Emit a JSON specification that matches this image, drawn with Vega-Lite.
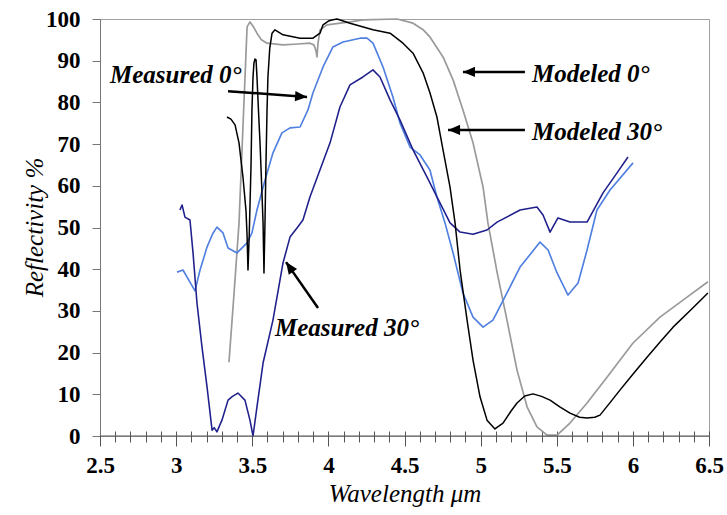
{
  "$schema": "https://vega.github.io/schema/vega-lite/v6.json",
  "autosize": {"type": "none"},
  "width": 609,
  "height": 417,
  "padding": {"left": 100, "top": 19, "right": 18, "bottom": 79},
  "background": "white",
  "config": {
    "view": {"stroke": "#a0a0a0", "strokeWidth": 1},
    "font": "Liberation Serif, serif",
    "axis": {"grid": false, "labelFont": "Liberation Serif, serif", "labelFontWeight": "bold", "labelFontSize": 22, "labelColor": "#000000",
      "titleFont": "Liberation Serif, serif", "titleFontStyle": "italic", "titleFontWeight": "normal", "titleColor": "#000000",
      "labelFlush": false, "labelOverlap": false}
  },
  "datasets": {
    "curves": [
      {"s":"Modeled 0°","x":3.347,"y":17.7},{"s":"Modeled 0°","x":3.380,"y":34},{"s":"Modeled 0°","x":3.413,"y":51},{"s":"Modeled 0°","x":3.440,"y":75},{"s":"Modeled 0°","x":3.466,"y":98.1},{"s":"Modeled 0°","x":3.485,"y":99.3},{"s":"Modeled 0°","x":3.510,"y":98},{"s":"Modeled 0°","x":3.531,"y":96.6},{"s":"Modeled 0°","x":3.560,"y":95},{"s":"Modeled 0°","x":3.597,"y":94.2},{"s":"Modeled 0°","x":3.702,"y":93.8},{"s":"Modeled 0°","x":3.800,"y":94},{"s":"Modeled 0°","x":3.879,"y":94.2},{"s":"Modeled 0°","x":3.905,"y":93.8},{"s":"Modeled 0°","x":3.918,"y":92.5},{"s":"Modeled 0°","x":3.925,"y":90.9},{"s":"Modeled 0°","x":3.932,"y":94.2},{"s":"Modeled 0°","x":3.945,"y":97.4},{"s":"Modeled 0°","x":3.991,"y":98.6},{"s":"Modeled 0°","x":4.142,"y":99.3},{"s":"Modeled 0°","x":4.227,"y":99.8},{"s":"Modeled 0°","x":4.451,"y":100},{"s":"Modeled 0°","x":4.556,"y":99.0},{"s":"Modeled 0°","x":4.620,"y":97.5},{"s":"Modeled 0°","x":4.667,"y":95.7},{"s":"Modeled 0°","x":4.753,"y":90.9},{"s":"Modeled 0°","x":4.819,"y":85.4},{"s":"Modeled 0°","x":4.884,"y":78.2},{"s":"Modeled 0°","x":4.950,"y":70.3},{"s":"Modeled 0°","x":5.016,"y":59.7},{"s":"Modeled 0°","x":5.048,"y":51.1},{"s":"Modeled 0°","x":5.108,"y":39.3},{"s":"Modeled 0°","x":5.173,"y":27.8},{"s":"Modeled 0°","x":5.239,"y":15.8},{"s":"Modeled 0°","x":5.305,"y":7.0},{"s":"Modeled 0°","x":5.370,"y":2.2},{"s":"Modeled 0°","x":5.436,"y":0.2},{"s":"Modeled 0°","x":5.502,"y":0.2},{"s":"Modeled 0°","x":5.587,"y":3.1},{"s":"Modeled 0°","x":5.699,"y":7.9},{"s":"Modeled 0°","x":5.830,"y":14.1},{"s":"Modeled 0°","x":6.001,"y":22.3},{"s":"Modeled 0°","x":6.178,"y":28.5},{"s":"Modeled 0°","x":6.356,"y":33.3},{"s":"Modeled 0°","x":6.493,"y":37.0},

      {"s":"Measured 0°","x":3.006,"y":39.3},{"s":"Measured 0°","x":3.045,"y":39.8},{"s":"Measured 0°","x":3.091,"y":36.9},{"s":"Measured 0°","x":3.124,"y":34.8},{"s":"Measured 0°","x":3.157,"y":39.8},{"s":"Measured 0°","x":3.203,"y":45.3},{"s":"Measured 0°","x":3.240,"y":48.5},{"s":"Measured 0°","x":3.268,"y":50.1},{"s":"Measured 0°","x":3.308,"y":48.7},{"s":"Measured 0°","x":3.341,"y":45.1},{"s":"Measured 0°","x":3.400,"y":43.9},{"s":"Measured 0°","x":3.466,"y":46.3},{"s":"Measured 0°","x":3.498,"y":48.7},{"s":"Measured 0°","x":3.531,"y":54.2},{"s":"Measured 0°","x":3.584,"y":61.4},{"s":"Measured 0°","x":3.636,"y":67.9},{"s":"Measured 0°","x":3.695,"y":72.7},{"s":"Measured 0°","x":3.748,"y":73.9},{"s":"Measured 0°","x":3.814,"y":74.1},{"s":"Measured 0°","x":3.866,"y":78.2},{"s":"Measured 0°","x":3.899,"y":82.3},{"s":"Measured 0°","x":3.965,"y":88.5},{"s":"Measured 0°","x":4.030,"y":93.3},{"s":"Measured 0°","x":4.096,"y":94.5},{"s":"Measured 0°","x":4.208,"y":95.4},{"s":"Measured 0°","x":4.254,"y":95.4},{"s":"Measured 0°","x":4.293,"y":94.2},{"s":"Measured 0°","x":4.359,"y":88.5},{"s":"Measured 0°","x":4.424,"y":81.3},{"s":"Measured 0°","x":4.470,"y":75.1},{"s":"Measured 0°","x":4.536,"y":69.3},{"s":"Measured 0°","x":4.602,"y":67.4},{"s":"Measured 0°","x":4.667,"y":63.8},{"s":"Measured 0°","x":4.713,"y":57.3},{"s":"Measured 0°","x":4.766,"y":51.1},{"s":"Measured 0°","x":4.819,"y":43.9},{"s":"Measured 0°","x":4.884,"y":34.3},{"s":"Measured 0°","x":4.950,"y":28.5},{"s":"Measured 0°","x":5.016,"y":26.1},{"s":"Measured 0°","x":5.081,"y":27.8},{"s":"Measured 0°","x":5.173,"y":34.3},{"s":"Measured 0°","x":5.259,"y":40.5},{"s":"Measured 0°","x":5.390,"y":46.5},{"s":"Measured 0°","x":5.443,"y":44.6},{"s":"Measured 0°","x":5.502,"y":39.1},{"s":"Measured 0°","x":5.574,"y":33.8},{"s":"Measured 0°","x":5.640,"y":36.7},{"s":"Measured 0°","x":5.699,"y":44.6},{"s":"Measured 0°","x":5.764,"y":54.2},{"s":"Measured 0°","x":5.850,"y":59.0},{"s":"Measured 0°","x":6.001,"y":65.5},

      {"s":"Measured 30°","x":3.025,"y":54.2},{"s":"Measured 30°","x":3.039,"y":55.4},{"s":"Measured 30°","x":3.058,"y":52.5},{"s":"Measured 30°","x":3.091,"y":51.8},{"s":"Measured 30°","x":3.111,"y":43.9},{"s":"Measured 30°","x":3.137,"y":31.9},{"s":"Measured 30°","x":3.170,"y":21.3},{"s":"Measured 30°","x":3.203,"y":11.8},{"s":"Measured 30°","x":3.236,"y":1.4},{"s":"Measured 30°","x":3.250,"y":2.0},{"s":"Measured 30°","x":3.268,"y":1.0},{"s":"Measured 30°","x":3.301,"y":3.8},{"s":"Measured 30°","x":3.341,"y":8.6},{"s":"Measured 30°","x":3.370,"y":9.5},{"s":"Measured 30°","x":3.406,"y":10.3},{"s":"Measured 30°","x":3.452,"y":8.6},{"s":"Measured 30°","x":3.485,"y":3.8},{"s":"Measured 30°","x":3.505,"y":0},{"s":"Measured 30°","x":3.531,"y":7.0},{"s":"Measured 30°","x":3.571,"y":17.5},{"s":"Measured 30°","x":3.636,"y":27.8},{"s":"Measured 30°","x":3.702,"y":41.5},{"s":"Measured 30°","x":3.748,"y":47.7},{"s":"Measured 30°","x":3.794,"y":49.9},{"s":"Measured 30°","x":3.833,"y":51.8},{"s":"Measured 30°","x":3.879,"y":57.3},{"s":"Measured 30°","x":4.011,"y":70.3},{"s":"Measured 30°","x":4.076,"y":78.9},{"s":"Measured 30°","x":4.142,"y":84.2},{"s":"Measured 30°","x":4.227,"y":86.1},{"s":"Measured 30°","x":4.293,"y":87.8},{"s":"Measured 30°","x":4.339,"y":86.1},{"s":"Measured 30°","x":4.405,"y":80.6},{"s":"Measured 30°","x":4.470,"y":75.8},{"s":"Measured 30°","x":4.556,"y":68.6},{"s":"Measured 30°","x":4.648,"y":62.1},{"s":"Measured 30°","x":4.733,"y":55.9},{"s":"Measured 30°","x":4.799,"y":51.1},{"s":"Measured 30°","x":4.865,"y":48.9},{"s":"Measured 30°","x":4.950,"y":48.4},{"s":"Measured 30°","x":5.042,"y":49.4},{"s":"Measured 30°","x":5.108,"y":51.3},{"s":"Measured 30°","x":5.259,"y":54.2},{"s":"Measured 30°","x":5.370,"y":54.9},{"s":"Measured 30°","x":5.410,"y":53.0},{"s":"Measured 30°","x":5.456,"y":48.9},{"s":"Measured 30°","x":5.508,"y":52.3},{"s":"Measured 30°","x":5.587,"y":51.3},{"s":"Measured 30°","x":5.699,"y":51.3},{"s":"Measured 30°","x":5.804,"y":58.3},{"s":"Measured 30°","x":5.896,"y":63.1},{"s":"Measured 30°","x":5.968,"y":66.9},

      {"s":"Modeled 30°","x":3.334,"y":76.5},{"s":"Modeled 30°","x":3.360,"y":76},{"s":"Modeled 30°","x":3.387,"y":74.6},{"s":"Modeled 30°","x":3.413,"y":70.3},{"s":"Modeled 30°","x":3.439,"y":62.1},{"s":"Modeled 30°","x":3.459,"y":54},{"s":"Modeled 30°","x":3.466,"y":48},{"s":"Modeled 30°","x":3.472,"y":39.8},{"s":"Modeled 30°","x":3.480,"y":48},{"s":"Modeled 30°","x":3.492,"y":65},{"s":"Modeled 30°","x":3.498,"y":78.2},{"s":"Modeled 30°","x":3.505,"y":86},{"s":"Modeled 30°","x":3.511,"y":89.4},{"s":"Modeled 30°","x":3.518,"y":90.4},{"s":"Modeled 30°","x":3.525,"y":90.2},{"s":"Modeled 30°","x":3.531,"y":86.1},{"s":"Modeled 30°","x":3.541,"y":78},{"s":"Modeled 30°","x":3.551,"y":70.3},{"s":"Modeled 30°","x":3.562,"y":60},{"s":"Modeled 30°","x":3.571,"y":51.1},{"s":"Modeled 30°","x":3.577,"y":39.1},{"s":"Modeled 30°","x":3.584,"y":52},{"s":"Modeled 30°","x":3.590,"y":65},{"s":"Modeled 30°","x":3.597,"y":78},{"s":"Modeled 30°","x":3.603,"y":86.1},{"s":"Modeled 30°","x":3.615,"y":93},{"s":"Modeled 30°","x":3.630,"y":96.6},{"s":"Modeled 30°","x":3.649,"y":97.4},{"s":"Modeled 30°","x":3.702,"y":96.2},{"s":"Modeled 30°","x":3.814,"y":95.4},{"s":"Modeled 30°","x":3.899,"y":95.4},{"s":"Modeled 30°","x":3.945,"y":96.6},{"s":"Modeled 30°","x":3.965,"y":98.6},{"s":"Modeled 30°","x":4.000,"y":99.5},{"s":"Modeled 30°","x":4.030,"y":99.8},{"s":"Modeled 30°","x":4.057,"y":100},{"s":"Modeled 30°","x":4.142,"y":99.0},{"s":"Modeled 30°","x":4.293,"y":97.4},{"s":"Modeled 30°","x":4.405,"y":96.6},{"s":"Modeled 30°","x":4.490,"y":94.2},{"s":"Modeled 30°","x":4.556,"y":91.8},{"s":"Modeled 30°","x":4.622,"y":87.1},{"s":"Modeled 30°","x":4.667,"y":82.3},{"s":"Modeled 30°","x":4.713,"y":76.5},{"s":"Modeled 30°","x":4.753,"y":68.6},{"s":"Modeled 30°","x":4.799,"y":59.7},{"s":"Modeled 30°","x":4.832,"y":51.1},{"s":"Modeled 30°","x":4.865,"y":39.8},{"s":"Modeled 30°","x":4.911,"y":27.8},{"s":"Modeled 30°","x":4.950,"y":18.2},{"s":"Modeled 30°","x":4.996,"y":9.4},{"s":"Modeled 30°","x":5.042,"y":3.8},{"s":"Modeled 30°","x":5.094,"y":1.7},{"s":"Modeled 30°","x":5.147,"y":3.1},{"s":"Modeled 30°","x":5.200,"y":6},{"s":"Modeled 30°","x":5.239,"y":7.9},{"s":"Modeled 30°","x":5.290,"y":9.6},{"s":"Modeled 30°","x":5.344,"y":10.1},{"s":"Modeled 30°","x":5.400,"y":9.5},{"s":"Modeled 30°","x":5.456,"y":8.6},{"s":"Modeled 30°","x":5.520,"y":7},{"s":"Modeled 30°","x":5.587,"y":5.5},{"s":"Modeled 30°","x":5.650,"y":4.5},{"s":"Modeled 30°","x":5.699,"y":4.3},{"s":"Modeled 30°","x":5.750,"y":4.5},{"s":"Modeled 30°","x":5.784,"y":5.0},{"s":"Modeled 30°","x":5.850,"y":8},{"s":"Modeled 30°","x":5.915,"y":11.0},{"s":"Modeled 30°","x":6.000,"y":14.8},{"s":"Modeled 30°","x":6.093,"y":18.9},{"s":"Modeled 30°","x":6.180,"y":22.6},{"s":"Modeled 30°","x":6.264,"y":26.1},{"s":"Modeled 30°","x":6.380,"y":30.2},{"s":"Modeled 30°","x":6.493,"y":34.3}
    ],
    "notes": [
      {"t":"Measured 0°","x":2.566,"y":86.6},
      {"t":"Modeled 0°","x":5.337,"y":86.8},
      {"t":"Modeled 30°","x":5.337,"y":72.9},
      {"t":"Measured 30°","x":3.649,"y":25.9}
    ],
    "arrows": [
      {"a":"m0","x":3.341,"y":82.7,"x2":3.860,"y2":81.3},
      {"a":"mod0","x":5.291,"y":87.3,"x2":4.884,"y2":87.3},
      {"a":"mod30","x":5.291,"y":73.4,"x2":4.786,"y2":73.4},
      {"a":"m30","x":3.932,"y":30.7,"x2":3.722,"y2":41.7}
    ],
    "heads": [
      {"a":"m0","x":3.860,"y":81.3},
      {"a":"mod0","x":4.884,"y":87.3},
      {"a":"mod30","x":4.786,"y":73.4},
      {"a":"m30","x":3.722,"y":41.7}
    ],
    "baseline": [
      {"x":2.5,"y":0,"x2":6.5}
    ]
  },
  "encoding": {
    "x": {"field": "x", "type": "quantitative",
      "scale": {"domain": [2.5, 6.5], "nice": false, "zero": false},
      "axis": {
        "values": [2.5,2.6,2.7,2.8,2.9,3.0,3.1,3.2,3.3,3.4,3.5,3.6,3.7,3.8,3.9,4.0,4.1,4.2,4.3,4.4,4.5,4.6,4.7,4.8,4.9,5.0,5.1,5.2,5.3,5.4,5.5,5.6,5.7,5.8,5.9,6.0,6.1,6.2,6.3,6.4,6.5],
        "labelExpr": "abs(datum.value*2-round(datum.value*2))<0.001 ? format(datum.value,'~g') : ''",
        "tickSize": {"condition": {"test": "abs(datum.value*2-round(datum.value*2))<0.001", "value": 15}, "value": 11},
        "offset": -5,
        "domain": false,
        "tickColor": "#555555",
        "tickWidth": 1,
        "labelFont": "Liberation Serif, serif", "labelFontWeight": "bold", "labelFontSize": 23, "labelColor": "#000000",
        "labelPadding": 8, "labelFlush": false, "labelOverlap": false,
        "title": "Wavelength μm",
        "titleFont": "Liberation Serif, serif", "titleFontStyle": "italic", "titleFontWeight": "normal", "titleFontSize": 25, "titleColor": "#000000",
        "titleX": 304.5, "titleY": 62, "titleBaseline": "middle", "titleAlign": "center"
      }
    },
    "y": {"field": "y", "type": "quantitative",
      "scale": {"domain": [0, 100], "nice": false},
      "axis": {
        "values": [0,10,20,30,40,50,60,70,80,90,100],
        "tickSize": 8, "tickColor": "#777777", "domainColor": "#777777",
        "labelFont": "Liberation Serif, serif", "labelFontWeight": "bold", "labelFontSize": 23, "labelColor": "#000000",
        "labelPadding": 12, "labelFlush": false, "labelOverlap": false,
        "title": "Reflectivity %",
        "titleFont": "Liberation Serif, serif", "titleFontStyle": "italic", "titleFontWeight": "normal", "titleFontSize": 25, "titleColor": "#000000",
        "titleX": -66, "titleY": 208, "titleBaseline": "middle", "titleAlign": "center", "titleAngle": -90
      }
    }
  },
  "layer": [
    {
      "data": {"name": "curves"},
      "mark": {"type": "line", "strokeJoin": "round"},
      "encoding": {
        "color": {"field": "s", "type": "nominal", "legend": null,
          "scale": {"domain": ["Modeled 0°","Measured 0°","Measured 30°","Modeled 30°"], "range": ["#9a9a9a","#4f7fe0","#20208c","#000000"]}},
        "strokeWidth": {"field": "s", "type": "nominal", "legend": null,
          "scale": {"domain": ["Modeled 0°","Measured 0°","Measured 30°","Modeled 30°"], "range": [1.7,1.5,1.5,2.0]}}
      }
    },
    {
      "data": {"name": "baseline"},
      "mark": {"type": "rule", "color": "#555555", "strokeWidth": 1},
      "encoding": {"x2": {"field": "x2"}}
    },
    {
      "data": {"name": "arrows"},
      "mark": {"type": "rule", "color": "#000000", "strokeWidth": 2.5},
      "encoding": {"x2": {"field": "x2"}, "y2": {"field": "y2"}}
    },
    {
      "data": {"name": "heads"},
      "transform": [{"filter": "datum.a === 'm0'"}],
      "mark": {"type": "point", "shape": "M0,0L-2,-0.85L-2,0.85Z", "filled": true, "color": "#000000", "opacity": 1, "size": 144, "angle": 4}
    },
    {
      "data": {"name": "heads"},
      "transform": [{"filter": "datum.a === 'mod0' || datum.a === 'mod30'"}],
      "mark": {"type": "point", "shape": "M0,0L-2,-0.85L-2,0.85Z", "filled": true, "color": "#000000", "opacity": 1, "size": 144, "angle": 180}
    },
    {
      "data": {"name": "heads"},
      "transform": [{"filter": "datum.a === 'm30'"}],
      "mark": {"type": "point", "shape": "M0,0L-2,-0.85L-2,0.85Z", "filled": true, "color": "#000000", "opacity": 1, "size": 144, "angle": 235}
    },
    {
      "data": {"name": "notes"},
      "mark": {"type": "text", "align": "left", "baseline": "middle", "font": "Liberation Serif, serif", "fontStyle": "italic", "fontWeight": "bold", "fontSize": 25, "color": "#000000"},
      "encoding": {"text": {"field": "t"}}
    }
  ]
}
